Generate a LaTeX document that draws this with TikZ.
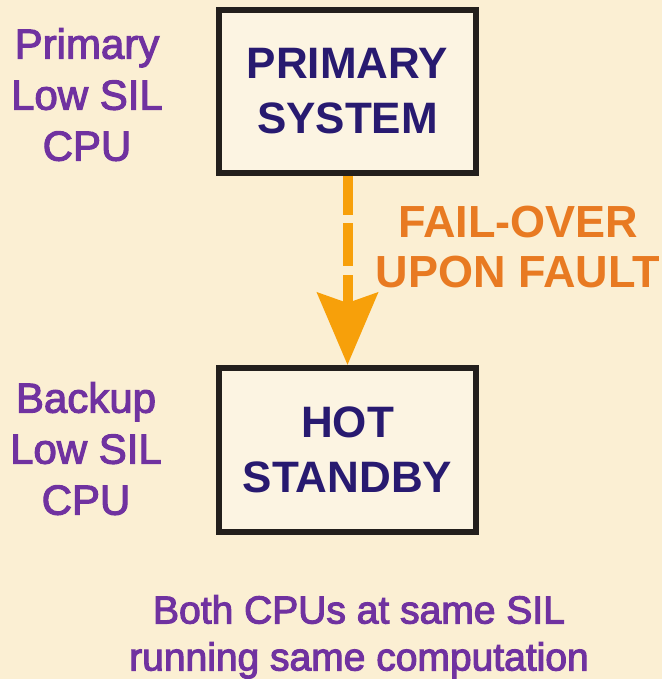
\documentclass[tikz,border=0pt]{standalone}
\usepackage{fontspec}
\setmainfont{Liberation Sans}
\newfontfamily\medfont{Liberation Sans}
% stroke the glyph outlines lightly to thicken the regular weight
\newcommand\thicktext{\special{pdf:literal 2 Tr 1.1 w}}
\usetikzlibrary{arrows.meta}

\definecolor{parch}{RGB}{251,239,211}
\definecolor{boxfill}{RGB}{252,244,226}
\definecolor{boxline}{RGB}{35,31,28}
\definecolor{navy}{RGB}{40,26,112}
\definecolor{plum}{RGB}{112,50,160}
\definecolor{amber}{RGB}{247,160,10}
\definecolor{rust}{RGB}{232,122,34}

\tikzset{
  sysbox/.style={draw=boxline, fill=boxfill, line width=6pt,
    minimum width=257pt, inner sep=0pt, align=center, text=navy,
    font=\fontsize{44}{55}\selectfont\bfseries},
  sidelabel/.style={anchor=north, inner sep=0pt, align=center, text=plum,
    font=\fontsize{42}{51}\selectfont\medfont\thicktext},
  note/.style={anchor=north, inner sep=0pt, align=center, text=rust,
    font=\fontsize{45}{50}\selectfont\bfseries},
  failover/.style={draw=amber, line width=10pt,
    dash pattern=on 39pt off 8pt on 43pt off 9pt on 300pt off 1pt,
    -{Stealth[length=72pt, width=60pt, inset=10pt]}}
}

\begin{document}
\begin{tikzpicture}[x=1pt, y=-1pt]
  % parchment backdrop
  \fill[parch] (0,0) rectangle (662,679);
  \useasboundingbox (0,0) rectangle (662,679);

  % the two systems
  \node[sysbox, minimum height=163pt] (primary) at (347.5,91.5) {PRIMARY\\SYSTEM};
  \node[sysbox, minimum height=164pt] (standby) at (347.5,450) {HOT\\STANDBY};

  % fail-over link
  \draw[failover] (primary.south) -- (standby.north);
  \node[note] (fault) at (518,206) {FAIL-OVER\\UPON FAULT};

  % side captions
  \node[sidelabel] (plabel) at (87,28) {Primary\\Low SIL\\CPU};
  \node[sidelabel] (blabel) at (86,382) {Backup\\Low SIL\\CPU};

  % footnote
  \node[sidelabel, font=\fontsize{39}{47}\selectfont\medfont\thicktext] (both) at (359,595)
    {Both CPUs at same SIL\\running same computation};
\end{tikzpicture}
\end{document}
